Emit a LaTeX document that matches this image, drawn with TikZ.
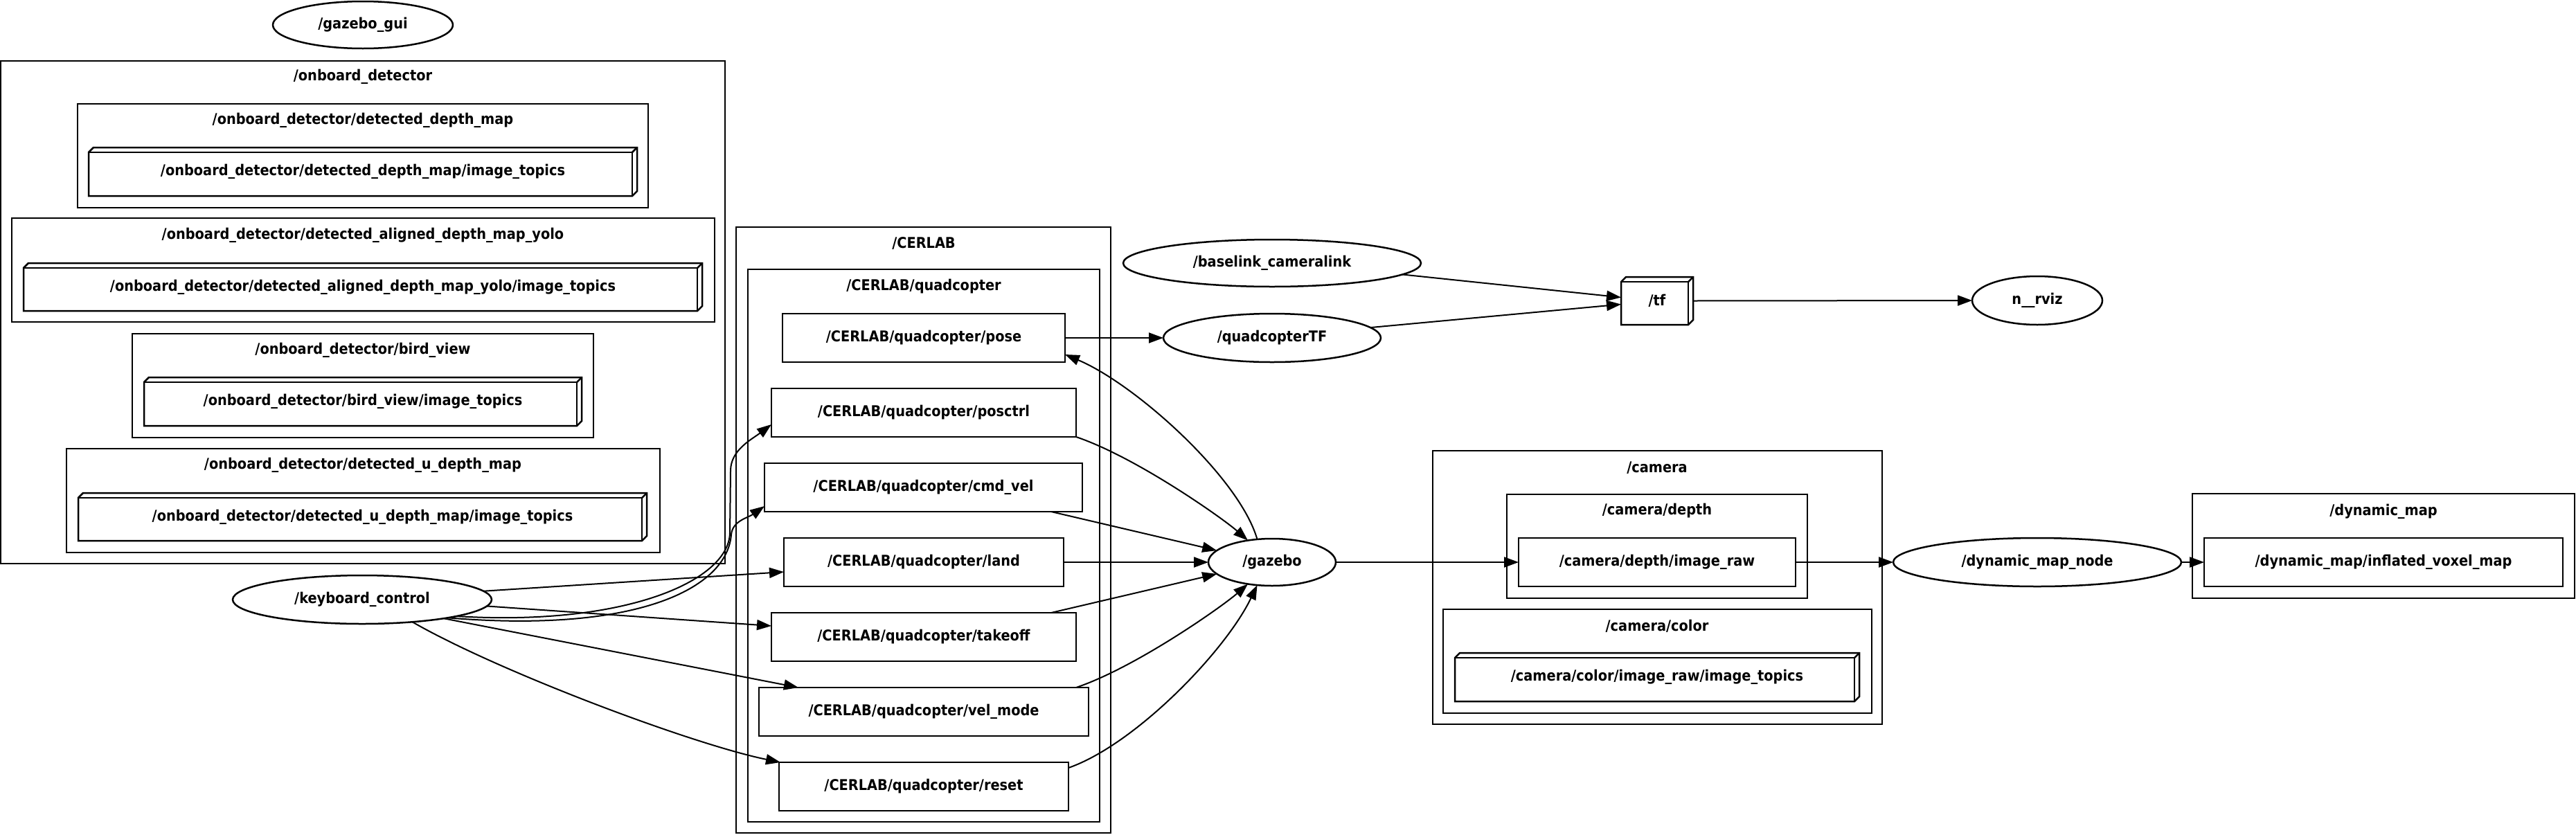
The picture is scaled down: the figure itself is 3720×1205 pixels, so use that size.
\documentclass[tikz,border=0pt]{standalone}
\usepackage{fontspec}
\newfontfamily\lblfont{DejaVu Sans Condensed}
\usetikzlibrary{arrows.meta,shapes.geometric}
\tikzset{
  lbl/.style={font=\lblfont\bfseries\fontsize{21.5}{24}\selectfont, inner sep=0pt, outer sep=0pt},
  shp/.style={line width=2.5pt},
  ell/.style={lbl, ellipse, draw, shp},
  rbox/.style={lbl, rectangle, draw, shp},
  tbox/.style={lbl, rectangle, draw=none},
  clus/.style={line width=2.5pt},
  edge/.style={line width=2pt, -{Triangle[length=21pt,width=15pt]}}
}
\newcommand\threed[1]{%
  \draw[shp] ([yshift=-7pt]#1.north west) -- ([xshift=7pt]#1.north west) -- (#1.north east) -- ([yshift=7pt]#1.south east) -- ([xshift=-7pt]#1.south east) -- (#1.south west) -- cycle;
  \draw[shp] ([yshift=-7pt]#1.north west) -- ([shift={(-7pt,-7pt)}]#1.north east) -- ([xshift=-7pt]#1.south east);
  \draw[shp] ([shift={(-7pt,-7pt)}]#1.north east) -- (#1.north east);
}
\begin{document}
\begin{tikzpicture}[x=1pt,y=-1pt]
\useasboundingbox (0,0) rectangle (3720,1205);

% clusters
\draw[clus] (1,88) rectangle (1047,814);
\node[lbl] (t_onb) at (524,111) {/onboard\_detector};
\draw[clus] (112,150) rectangle (936,300);
\node[lbl] (t_ddm) at (524,174) {/onboard\_detector/detected\_depth\_map};
\draw[clus] (17,315) rectangle (1032,465);
\node[lbl] (t_dadm) at (524,340) {/onboard\_detector/detected\_aligned\_depth\_map\_yolo};
\draw[clus] (191,482) rectangle (857,632);
\node[lbl] (t_bird) at (524,506) {/onboard\_detector/bird\_view};
\draw[clus] (96,648) rectangle (953,798);
\node[lbl] (t_udm) at (524,672) {/onboard\_detector/detected\_u\_depth\_map};

\draw[clus] (1063,328) rectangle (1604,1203);
\node[lbl] (t_cerlab) at (1334,352) {/CERLAB};
\draw[clus] (1080,389) rectangle (1588,1187);
\node[lbl] (t_quad) at (1334,414) {/CERLAB/quadcopter};

\draw[clus] (2069,651) rectangle (2718,1046);
\node[lbl] (t_cam) at (2393,676) {/camera};
\draw[clus] (2176,714) rectangle (2610,864);
\node[lbl] (t_camd) at (2393,738) {/camera/depth};
\draw[clus] (2084,880) rectangle (2703,1030);
\node[lbl] (t_camc) at (2393,904) {/camera/color};

\draw[clus] (3166,713) rectangle (3718,864);
\node[lbl] (t_dmap) at (3442,739) {/dynamic\_map};

% ellipse nodes
\node[ell, minimum width=260pt, minimum height=68pt] (gui) at (524,36) {/gazebo\_gui};
\node[ell, minimum width=374pt, minimum height=70pt] (kc) at (523,866) {/keyboard\_control};
\node[ell, minimum width=430pt, minimum height=68pt] (bl) at (1837,380) {/baselink\_cameralink};
\node[ell, minimum width=314pt, minimum height=70pt] (qtf) at (1837,488) {/quadcopterTF};
\node[ell, minimum width=184pt, minimum height=68pt] (gz) at (1837,812) {/gazebo};
\node[ell, minimum width=188pt, minimum height=70pt] (rviz) at (2942,434) {n\_\_rviz};
\node[ell, minimum width=416pt, minimum height=70pt] (dmn) at (2942,812) {/dynamic\_map\_node};

% box nodes
\node[rbox, minimum width=408pt, minimum height=70pt] (pose) at (1334,488) {/CERLAB/quadcopter/pose};
\node[rbox, minimum width=440pt, minimum height=70pt] (posctrl) at (1334,596) {/CERLAB/quadcopter/posctrl};
\node[rbox, minimum width=459pt, minimum height=70pt] (cmdvel) at (1333.5,704) {/CERLAB/quadcopter/cmd\_vel};
\node[rbox, minimum width=404pt, minimum height=70pt] (land) at (1334,812) {/CERLAB/quadcopter/land};
\node[rbox, minimum width=440pt, minimum height=70pt] (takeoff) at (1334,920) {/CERLAB/quadcopter/takeoff};
\node[rbox, minimum width=476pt, minimum height=70pt] (velmode) at (1334,1028) {/CERLAB/quadcopter/vel\_mode};
\node[rbox, minimum width=418pt, minimum height=70pt] (reset) at (1334,1136) {/CERLAB/quadcopter/reset};
\node[rbox, minimum width=400pt, minimum height=70pt] (ir) at (2393,812) {/camera/depth/image\_raw};
\node[rbox, minimum width=518pt, minimum height=70pt] (inf) at (3442,812) {/dynamic\_map/inflated\_voxel\_map};

% box3d nodes
\node[tbox, minimum width=104pt, minimum height=69pt] (tf) at (2393,434.5) {/tf};
\threed{tf}
\node[tbox, minimum width=792pt, minimum height=70pt] (ddm) at (524,248) {/onboard\_detector/detected\_depth\_map/image\_topics};
\threed{ddm}
\node[tbox, minimum width=980pt, minimum height=69pt] (dadm) at (524,414.5) {/onboard\_detector/detected\_aligned\_depth\_map\_yolo/image\_topics};
\threed{dadm}
\node[tbox, minimum width=632pt, minimum height=70pt] (bird) at (524,580) {/onboard\_detector/bird\_view/image\_topics};
\threed{bird}
\node[tbox, minimum width=821pt, minimum height=69pt] (udm) at (523.5,746.5) {/onboard\_detector/detected\_u\_depth\_map/image\_topics};
\threed{udm}
\node[tbox, minimum width=584pt, minimum height=70pt] (col) at (2393,978) {/camera/color/image\_raw/image\_topics};
\threed{col}

% edges from keyboard_control
\draw[edge] (kc.-10) .. controls (900,905) and (1052,840) .. (1054,770) -- (1055,680) .. controls (1055,650) and (1085,635) .. ([yshift=-17pt]posctrl.west);
\draw[edge] (kc.-12) .. controls (920,915) and (1050,850) .. (1056,772) .. controls (1058,752) and (1080,748) .. ([yshift=-27pt]cmdvel.west);
\draw[edge] (kc.4) -- ([yshift=-14pt]land.west);
\draw[edge] (kc.-3) -- ([yshift=16pt]takeoff.west);
\draw[edge] (kc.-13) -- ([xshift=57pt]velmode.north west);
\draw[edge] (kc.-24) .. controls (720,970) and (1000,1075) .. ([xshift=2pt]reset.north west);

% edges around gazebo
\draw[edge] (gz.123) .. controls (1790,690) and (1640,555) .. ([yshift=-24pt]pose.east);
\draw[edge] (posctrl.south east) .. controls (1640,660) and (1765,748) .. (gz.138);
\draw[edge] ([xshift=-45pt]cmdvel.south east) -- (gz.168);
\draw[edge] (land.east) -- (gz.west);
\draw[edge] ([xshift=-36pt]takeoff.north east) -- (gz.192);
\draw[edge] ([xshift=-18pt]velmode.north east) .. controls (1640,964) and (1765,876) .. (gz.222);
\draw[edge] ([yshift=27pt]reset.east) .. controls (1640,1075) and (1770,940) .. (gz.237);

% tf chain
\draw[edge] (pose.east) -- (qtf.west);
\draw[edge] (bl.-5) -- ([yshift=5pt]tf.west);
\draw[edge] (qtf.6) -- ([yshift=-5pt]tf.west);
\draw[edge] (tf.east) -- (rviz.west);

% camera chain
\draw[edge] (gz.east) -- (ir.west);
\draw[edge] (ir.east) -- (dmn.west);
\draw[edge] (dmn.east) -- (inf.west);
\end{tikzpicture}
\end{document}
